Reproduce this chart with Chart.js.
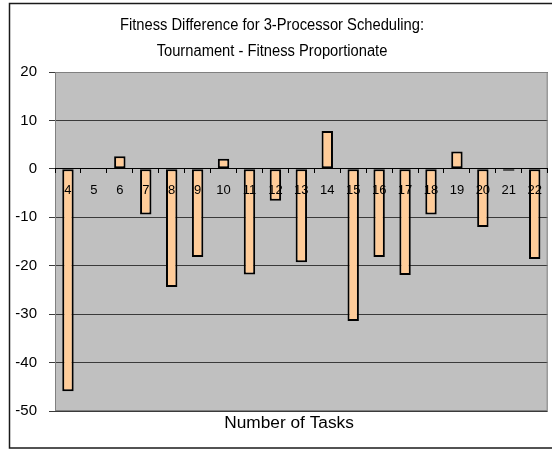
<!DOCTYPE html>
<html>
<head>
<meta charset="utf-8">
<script src="https://cdn.jsdelivr.net/npm/chart.js@4/dist/chart.umd.min.js"></script>
<style>
  html, body { margin: 0; padding: 0; background: #fff; }
  canvas { display: block; }
</style>
</head>
<body>
<canvas id="chart" width="552" height="451"></canvas>
<script>
// Number of tasks per scheduling problem
const taskCounts = ['4', '5', '6', '7', '8', '9', '10', '11', '12', '13', '14', '15', '16', '17', '18', '19', '20', '21', '22'];
// Fitness of tournament selection minus fitness-proportionate selection
const fitnessDiff = [-45.9, null, 2.6, -9.4, -24.4, -18.2, 2.1, -21.8, -6.6, -19.3, 7.8, -31.4, -18.2, -21.9, -9.4, 3.6, -12.0, -0.4, -18.6];
// Value axis range and step
const yRange = [-50, 20];
const yStep = 10;

const titleLines = ['Fitness Difference for 3-Processor Scheduling:', 'Tournament - Fitness Proportionate'];
const xAxisTitle = 'Number of Tasks';

const FONT = '"Liberation Sans", Arial, sans-serif';

// Draws one line of text, scaled horizontally
function scaledText(ctx, text, x, y, sx) {
  ctx.save();
  ctx.translate(x, y);
  ctx.scale(sx, 1);
  ctx.fillText(text, 0, 0);
  ctx.restore();
}

// Worksheet-style frame, grey plot area and the text around it
const sheetFrame = {
  id: 'sheetFrame',
  beforeDraw(chart) {
    const { ctx, chartArea: a } = chart;
    ctx.save();
    ctx.fillStyle = '#ffffff';
    ctx.fillRect(0, 0, chart.width, chart.height);
    ctx.strokeStyle = '#1a1a1a';
    ctx.lineWidth = 1.5;
    ctx.strokeRect(9.5, 3.5, 600, 444.5);
    ctx.fillStyle = '#C0C0C0';
    ctx.fillRect(a.left, a.top, a.right - a.left, a.bottom - a.top);
    ctx.restore();
  },
  beforeDatasetsDraw(chart) {
    const { ctx, chartArea: a } = chart;
    ctx.save();
    ctx.strokeStyle = '#808080';
    ctx.lineWidth = 1;
    ctx.strokeRect(a.left + 0.5, a.top + 0.5, a.right - a.left - 1, a.bottom - a.top - 1);
    ctx.restore();
  },
  afterDraw(chart) {
    const { ctx } = chart;
    ctx.save();
    ctx.fillStyle = '#000';
    ctx.textAlign = 'center';
    ctx.textBaseline = 'alphabetic';
    ctx.font = '16px ' + FONT;
    scaledText(ctx, titleLines[0], 272, 30, 0.92);
    scaledText(ctx, titleLines[1], 272, 56, 0.92);
    scaledText(ctx, xAxisTitle, 289, 428, 1.08);
    ctx.restore();
  }
};

new Chart(document.getElementById('chart'), {
  type: 'bar',
  data: {
    labels: taskCounts,
    datasets: [{
      data: fitnessDiff,
      backgroundColor: '#FFCC99',
      borderColor: '#000000',
      borderWidth: 2,
      borderSkipped: false,
      barPercentage: 0.44,
      categoryPercentage: 1.0
    }]
  },
  options: {
    responsive: false,
    animation: false,
    layout: { padding: { top: 72, bottom: 40, left: 0, right: 2 } },
    plugins: {
      legend: { display: false },
      tooltip: { enabled: false },
      title: { display: false }
    },
    scales: {
      x: {
        position: { y: 0 },
        offset: true,
        grid: { offset: true, drawOnChartArea: false, tickLength: 4, color: '#000', lineWidth: 1, z: 1 },
        border: { display: true, color: '#000', width: 1, z: 1 },
        ticks: { z: 1, color: '#000', font: { family: FONT, size: 13 }, padding: 10, maxRotation: 0, autoSkip: false }
      },
      y: {
        min: yRange[0],
        max: yRange[1],
        grid: { color: '#3a3a3a', lineWidth: 1, tickLength: 6 },
        border: { display: false },
        ticks: { stepSize: yStep, color: '#000', font: { family: FONT, size: 15 }, padding: 12 },
        afterFit(scale) { scale.width = 55; }
      }
    }
  },
  plugins: [sheetFrame]
});
</script>
</body>
</html>
